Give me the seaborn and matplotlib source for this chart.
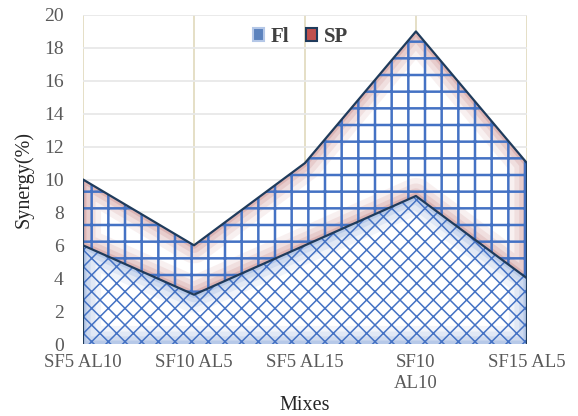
import numpy as np
import pandas as pd
import matplotlib
matplotlib.use('Agg')
import matplotlib.pyplot as plt
import seaborn as sns
from matplotlib.patches import Patch

mixes = ['SF5 AL10', 'SF10 AL5', 'SF5 AL15', 'SF10\nAL10', 'SF15 AL5']
fl = [6, 3, 6, 9, 4]
sp = [4, 3, 5, 10, 7]

df = pd.DataFrame({'pos': range(len(mixes)), 'Fl': fl, 'SP': sp})
df['top'] = df['Fl'] + df['SP']

sns.set_theme(style='white')
plt.rcParams['font.family'] = ['Liberation Serif', 'DejaVu Serif']

fig = plt.figure(figsize=(5.78, 4.16), dpi=100)
ax = fig.add_axes([0.1436, 0.173, 0.768, 0.791])

blue = '#4472c4'
navy = '#1f3b5c'


def soft_area(lower, upper, glow, hatch, hatch_lw):
    # white base, a soft coloured rim inside the area, then the hatch on top
    base = ax.fill_between(df['pos'], lower, upper, facecolor='white',
                           linewidth=0, zorder=2)
    path = base.get_paths()[0]
    verts = path.vertices
    for lw, a in [(26, 0.12), (18, 0.16), (11, 0.22), (5, 0.35)]:
        ln, = ax.plot(verts[:, 0], verts[:, 1], color=glow, linewidth=lw,
                      alpha=a, solid_joinstyle='round', zorder=2.1)
        ln.set_clip_path(path, ax.transData)
    with plt.rc_context({'hatch.linewidth': hatch_lw}):
        ax.fill_between(df['pos'], lower, upper, facecolor='none', edgecolor=blue,
                        hatch=hatch, linewidth=0, zorder=2.2)


soft_area(0, df['Fl'], '#8eaadb', 'xx', 1.1)
soft_area(df['Fl'], df['top'], '#c98a8a', '+', 1.8)

sns.lineplot(data=df, x='pos', y='top', color=navy, linewidth=1.6, ax=ax, zorder=3)
sns.lineplot(data=df, x='pos', y='Fl', color=navy, linewidth=1.6, ax=ax, zorder=3)
ax.plot([0, 0], [0, df['top'].iloc[0]], color=navy, linewidth=1.6, zorder=3)
ax.plot([4, 4], [0, df['top'].iloc[-1]], color=navy, linewidth=1.6, zorder=3)

ax.set_xlim(0, len(mixes) - 1)
ax.set_ylim(0, 20)
ax.set_yticks(range(0, 21, 2))
ax.set_xticks(range(len(mixes)))
ax.set_xticklabels(mixes, linespacing=1.3)
ax.tick_params(axis='x', labelsize=13.5, labelcolor='#595959', length=0, pad=7)
ax.tick_params(axis='y', labelsize=14, labelcolor='#595959', length=0, pad=14)

ax.grid(axis='y', color='#e8e8e8', linewidth=1.3, zorder=0)
ax.grid(axis='x', color='#e3dcc2', linewidth=1.3, zorder=0)
ax.set_axisbelow(True)
sns.despine(ax=ax, left=True, bottom=True)

ax.set_xlabel('Mixes', fontsize=14.5, color='#262626')
ax.set_ylabel('Synergy(%)', fontsize=14.5, color='#262626')
ax.xaxis.set_label_coords(0.5, -0.158)
ax.yaxis.set_label_coords(-0.112, 0.5)

handles = [Patch(facecolor='#5b82bd', edgecolor='#b4c7e7', linewidth=1.5),
           Patch(facecolor='#c0504d', edgecolor=navy, linewidth=1.5)]
leg = ax.legend(handles, ['Fl', 'SP'], loc='center', bbox_to_anchor=(0.49, 0.933),
                ncol=2, frameon=False, handlelength=0.55, handleheight=0.55,
                handletextpad=0.3, columnspacing=0.8,
                prop={'weight': 'bold', 'size': 15})
for t in leg.get_texts():
    t.set_color('#404040')

fig.savefig('out.png', dpi=100)
